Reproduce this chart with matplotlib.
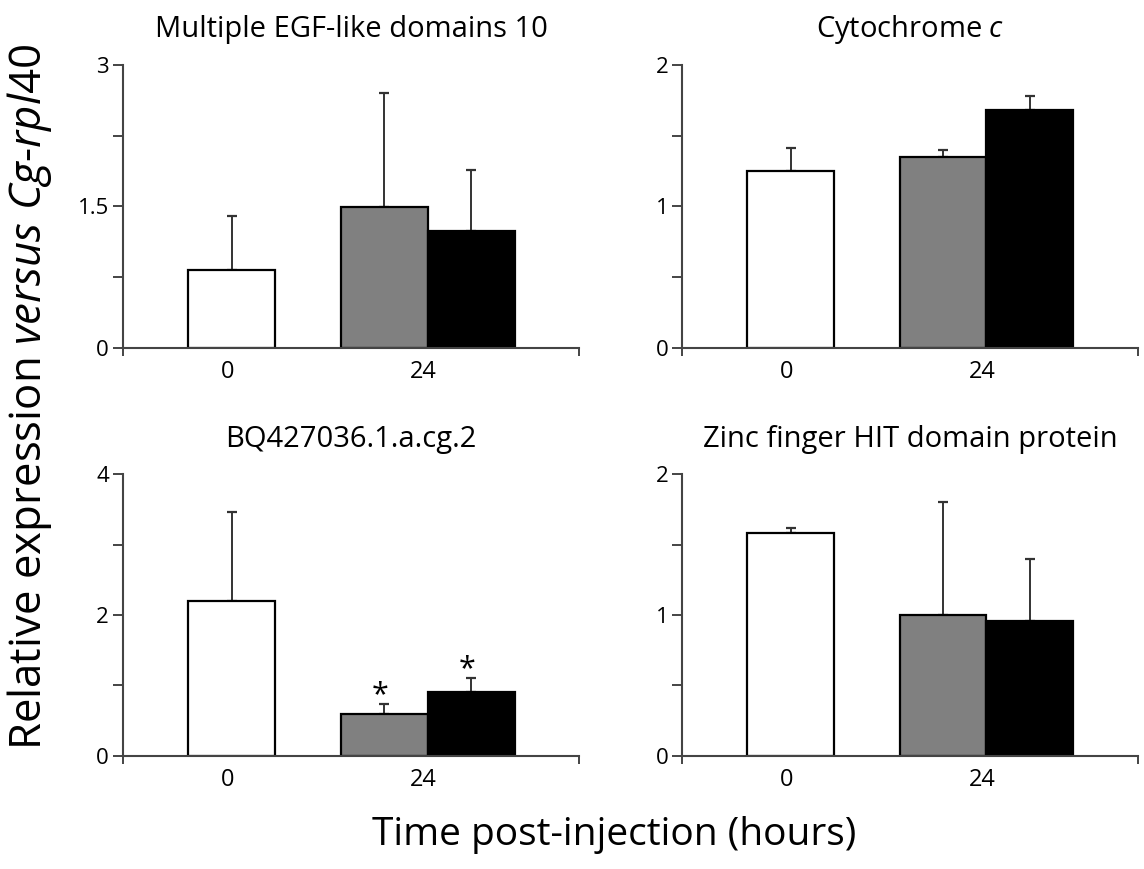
import matplotlib
matplotlib.use("Agg")
import matplotlib.pyplot as plt
import numpy as np

plt.rcParams['font.family'] = ['Open Sans', 'DejaVu Sans']
plt.rcParams['mathtext.fontset'] = 'custom'
plt.rcParams['mathtext.rm'] = 'Open Sans'
plt.rcParams['mathtext.it'] = 'Open Sans:italic'

titles = ["Multiple EGF-like domains 10", r"Cytochrome $\mathit{c}$",
          "BQ427036.1.a.cg.2", "Zinc finger HIT domain protein"]
group_labels = ["0", "24"]
bar_colors = ["white", "#808080", "black"]

egf_mean = [0.82, 1.49, 1.24]
egf_err = [0.58, 1.21, 0.65]
cyt_mean = [1.25, 1.35, 1.68]
cyt_err = [0.165, 0.05, 0.10]
bq_mean = [2.20, 0.59, 0.90]
bq_err = [1.27, 0.15, 0.21]
zinc_mean = [1.58, 1.00, 0.96]
zinc_err = [0.035, 0.805, 0.44]
bq_signif = [False, True, True]

means = [egf_mean, cyt_mean, bq_mean, zinc_mean]
errs = [egf_err, cyt_err, bq_err, zinc_err]
ymax = [3, 2, 4, 2]
yticks_major = [[0, 1.5, 3], [0, 1, 2], [0, 2, 4], [0, 1, 2]]
yticklabels = [["0", "1.5", "3"], ["0", "1", "2"], ["0", "2", "4"], ["0", "1", "2"]]

bar_x = [1.25, 3.0, 4.0]
label_x = [1.2, 3.45]
xmax = 5.24

fig = plt.figure(figsize=(11.44, 8.69), dpi=100)
boxes = [[0.1073, 0.600, 0.399, 0.325], [0.5964, 0.600, 0.398, 0.325],
         [0.1073, 0.1304, 0.399, 0.3238], [0.5964, 0.1304, 0.398, 0.3238]]

spine_col = "#444444"
for i in range(4):
    ax = fig.add_axes(boxes[i])
    ax.bar(bar_x, means[i], width=1.0, color=bar_colors, edgecolor="black",
           linewidth=1.6, zorder=2)
    ax.errorbar(bar_x, means[i], yerr=[np.zeros(3), errs[i]], fmt="none",
                ecolor="#333333", elinewidth=1.4, capsize=3.6, capthick=1.6, zorder=1)
    ax.set_xlim(0, xmax)
    ax.set_ylim(0, ymax[i])
    for s in ["top", "right"]:
        ax.spines[s].set_visible(False)
    for s in ["left", "bottom"]:
        ax.spines[s].set_color(spine_col)
        ax.spines[s].set_linewidth(1.5)
    ax.set_yticks(yticks_major[i])
    ax.set_yticklabels(yticklabels[i], fontsize=16)
    ax.set_yticks([ymax[i] / 4, 3 * ymax[i] / 4], minor=True)
    ax.tick_params(axis="y", which="both", direction="out", length=7, width=1.4,
                   color=spine_col, pad=3)
    ax.set_xticks([0, xmax])
    ax.set_xticklabels(["", ""])
    ax.tick_params(axis="x", which="major", direction="out", length=6, width=1.4,
                   color=spine_col)
    ax.set_xticks(label_x, minor=True)
    ax.set_xticklabels(group_labels, minor=True, fontsize=17)
    ax.tick_params(axis="x", which="minor", length=0, pad=9)
    ax.set_title(titles[i], fontsize=21, pad=20)
    if i == 2:
        for x, m, e, s in zip(bar_x, means[i], errs[i], bq_signif):
            if s:
                ax.annotate("*", (x - 0.05, m + e), xytext=(0, -5),
                            textcoords="offset points", ha="center", va="bottom",
                            fontsize=22)

fig.text(0.026, 0.543, r"Relative expression $\mathit{versus\ Cg}$-$\mathit{rpl40}$",
         rotation=90, ha="center", va="center", fontsize=31.5)
fig.text(0.537, 0.039, "Time post-injection (hours)", ha="center", va="center",
         fontsize=28)

fig.savefig("out.png", dpi=100)
